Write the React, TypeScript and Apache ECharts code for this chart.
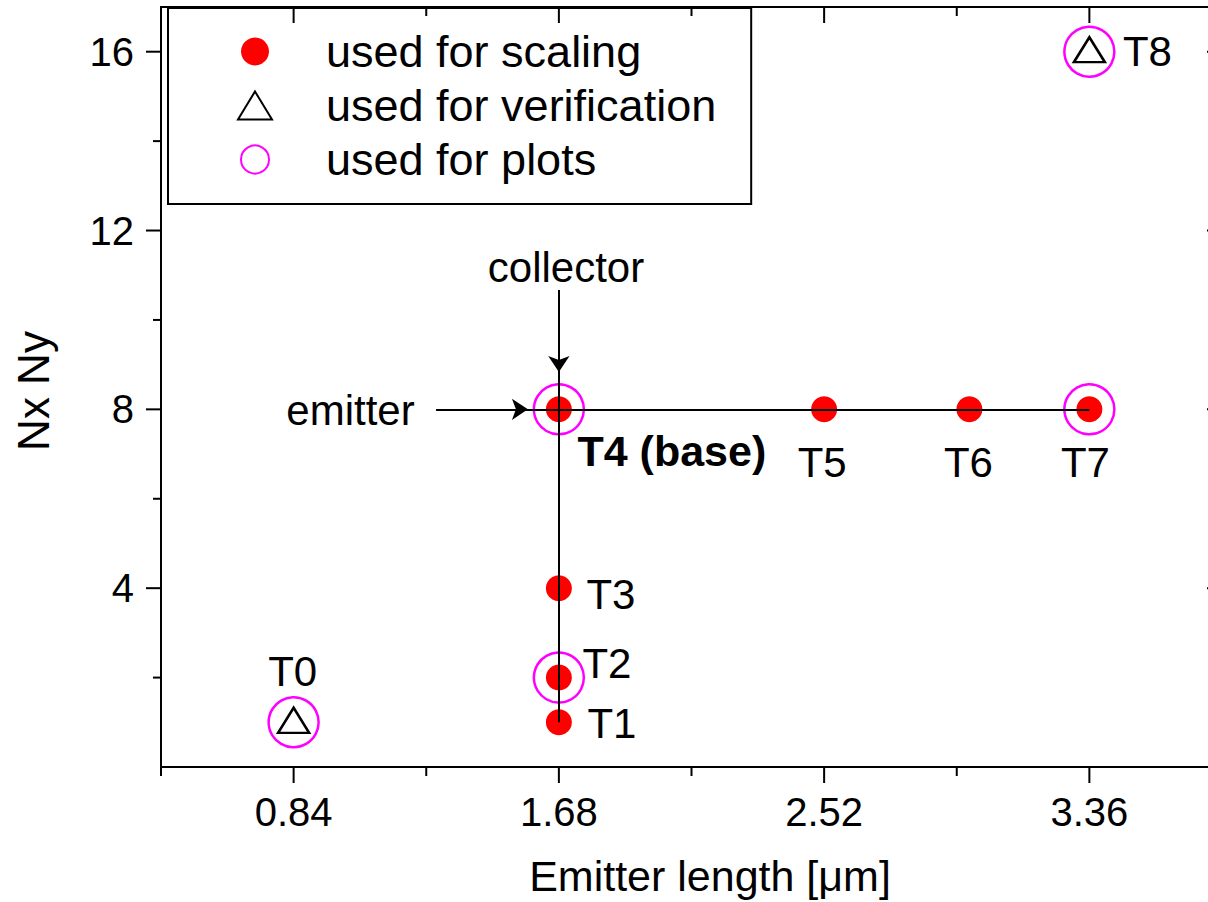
import React, { useEffect, useRef } from "react";
import * as echarts from "echarts";

const FONT = "'Liberation Sans', Arial, Helvetica, sans-serif";

// ---- data ----
const scalingNames = ["T1", "T2", "T3", "T4", "T5", "T6", "T7"];
const scalingX = [1.68, 1.68, 1.68, 1.68, 2.52, 2.98, 3.36];
const scalingY = [1, 2, 4, 8, 8, 8, 8];

const verificationNames = ["T0", "T8"];
const verificationX = [0.84, 3.36];
const verificationY = [1, 16];

const plotNames = ["T0", "T2", "T4", "T7", "T8"];
const plotX = [0.84, 1.68, 1.68, 3.36, 3.36];
const plotY = [1, 2, 8, 8, 16];

const legendNames = ["used for scaling", "used for verification", "used for plots"];

// connector segments (data coords)
const connectorFrom = [[1.68, 8.84], [1.58, 8]];
const connectorTo = [[1.68, 1], [3.36, 8]];
// arrows (collector, emitter)
const arrowFrom = [[1.68, 10.67], [1.291, 8]];
const arrowTo = [[1.68, 8.835], [1.582, 8]];

// annotations
const annotationText = ["T0", "T1", "T2", "T3", "T4 (base)", "T5", "T6", "T7", "T8", "collector", "emitter"];
const annotationX = [0.84, 1.68, 1.68, 1.68, 1.68, 2.52, 2.98, 3.36, 3.36, 1.7025, 1.02];
const annotationY = [1, 1, 2, 4, 8, 8, 8, 8, 16, 11.18, 8];

// axes
const X_MIN = 0.42;
const X_MAX = 3.78;
const X_STEP = 0.42;
const X_LABEL_STEP = 0.84;
const Y_MIN = 0;
const Y_MAX = 17;
const Y_STEP = 4;
const xTickMajor = [0.84, 1.68, 2.52, 3.36];
const xTickMinor = [0.42, 1.26, 2.1, 2.94, 3.78];
const yTickMajor = [4, 8, 12, 16];
const yTickMinor = [2, 6, 10, 14];

// ---- styles (label offsets) ----
const labelOffsets: Record<string, number[]> = {
  T0: [-1, -51],
  T1: [53, 1],
  T2: [48, -14],
  T3: [52, 6],
  "T4 (base)": [113, 42],
  T5: [-2, 53],
  T6: [-1, 53],
  T7: [-4, 53],
  T8: [58, 0],
  collector: [0, 0],
  emitter: [0, 1],
};

const pts = (xs: number[], ys: number[], names: string[]) =>
  xs.map((x, i) => ({ name: names[i], value: [x, ys[i]] }));

const segs = (from: number[][], to: number[][]) =>
  from.map((f, i) => ({ coords: [f, to[i]] }));

function buildOption(): any {
  const tickData = [
    ...xTickMajor.map((v) => [v, 0]),
    ...xTickMinor.map((v) => [v, 1]),
    ...yTickMajor.map((v) => [v, 2]),
    ...yTickMinor.map((v) => [v, 3]),
  ];
  const axisLine = { show: true, onZero: false, lineStyle: { color: "#000", width: 2 } };
  return {
    animation: false,
    backgroundColor: "#fff",
    grid: {
      left: 161,
      top: 7,
      width: 1061,
      height: 760,
      containLabel: false,
      outerBoundsMode: "none",
    },
    xAxis: [
      {
        type: "value",
        position: "bottom",
        min: X_MIN,
        max: X_MAX,
        interval: X_STEP,
        axisLine,
        axisTick: { show: false },
        splitLine: { show: false },
        axisLabel: {
          fontSize: 40,
          fontFamily: FONT,
          color: "#000",
          margin: 25,
          formatter: (v: number) => {
            const k = v / X_LABEL_STEP;
            return Math.abs(k - Math.round(k)) < 1e-6 ? v.toFixed(2) : "";
          },
        },
      },
      {
        type: "value",
        position: "top",
        min: X_MIN,
        max: X_MAX,
        interval: X_STEP,
        axisLine,
        axisTick: { show: false },
        splitLine: { show: false },
        axisLabel: { show: false },
      },
    ],
    yAxis: [
      {
        type: "value",
        position: "left",
        min: Y_MIN,
        max: Y_MAX,
        interval: Y_STEP,
        axisLine,
        axisTick: { show: false },
        splitLine: { show: false },
        axisLabel: {
          fontSize: 40,
          fontFamily: FONT,
          color: "#000",
          margin: 27,
          formatter: (v: number) => (v > 0 && v % Y_STEP === 0 && v <= 16 ? String(v) : ""),
        },
      },
      {
        type: "value",
        position: "right",
        min: Y_MIN,
        max: Y_MAX,
        interval: Y_STEP,
        axisLine,
        axisTick: { show: false },
        splitLine: { show: false },
        axisLabel: { show: false },
      },
    ],
    legend: {
      data: legendNames,
      orient: "vertical",
      left: 168,
      top: 8,
      itemWidth: 34,
      itemHeight: 28,
      itemGap: 9,
      padding: [21, 35, 22, 69],
      borderColor: "#000",
      borderWidth: 2,
      backgroundColor: "#fff",
      selectedMode: false,
      textStyle: {
        fontSize: 45,
        lineHeight: 45,
        fontFamily: FONT,
        color: "#000",
        padding: [0, 0, 0, 49],
      },
    },
    graphic: [
      {
        type: "text",
        x: 710,
        y: 876,
        style: {
          text: "Emitter length [μm]",
          fontSize: 43,
          fontFamily: FONT,
          fill: "#000",
          align: "center",
          verticalAlign: "middle",
        },
      },
      {
        type: "text",
        x: 33,
        y: 391,
        rotation: Math.PI / 2,
        style: {
          text: "Nx Ny",
          fontSize: 44,
          fontFamily: FONT,
          fill: "#000",
          align: "center",
          verticalAlign: "middle",
        },
      },
    ],
    series: [
      {
        name: "used for plots",
        type: "scatter",
        z: 2,
        symbol: "circle",
        symbolSize: 50,
        itemStyle: { color: "rgba(0,0,0,0)", borderColor: "#ff00ff", borderWidth: 2.5, opacity: 1 },
        data: pts(plotX, plotY, plotNames),
      },
      {
        name: "used for scaling",
        type: "scatter",
        z: 3,
        symbol: "circle",
        symbolSize: 26,
        itemStyle: { color: "#ff0000", borderWidth: 0, opacity: 1 },
        data: pts(scalingX, scalingY, scalingNames),
      },
      {
        name: "connectors",
        type: "lines",
        coordinateSystem: "cartesian2d",
        z: 4,
        silent: true,
        symbol: ["none", "none"],
        lineStyle: { color: "#000", width: 2, opacity: 1, curveness: 0 },
        data: segs(connectorFrom, connectorTo),
      },
      {
        name: "arrows",
        type: "lines",
        coordinateSystem: "cartesian2d",
        z: 4,
        silent: true,
        symbol: ["none", "arrow"],
        symbolSize: [8, 16],
        lineStyle: { color: "#000", width: 2, opacity: 1, curveness: 0 },
        data: segs(arrowFrom, arrowTo),
      },
      {
        name: "used for verification",
        type: "scatter",
        z: 5,
        symbol: "triangle",
        symbolSize: [31, 25],
        symbolOffset: [0, -2],
        itemStyle: { color: "rgba(0,0,0,0)", borderColor: "#000", borderWidth: 2.5, opacity: 1 },
        data: pts(verificationX, verificationY, verificationNames),
      },
      {
        name: "annotations",
        type: "scatter",
        z: 6,
        silent: true,
        symbolSize: 1,
        itemStyle: { color: "rgba(0,0,0,0)", opacity: 1 },
        data: annotationText.map((t, i) => ({
          name: t,
          value: [annotationX[i], annotationY[i]],
          label: {
            show: true,
            position: "inside",
            offset: labelOffsets[t] || [0, 0],
            formatter: t,
            fontSize: t === "T4 (base)" ? 43 : 42,
            fontWeight: t === "T4 (base)" ? "bold" : "normal",
            fontFamily: FONT,
            color: "#000",
            opacity: 1,
          },
        })),
      },
      {
        name: "ticks",
        type: "custom",
        z: 7,
        silent: true,
        clip: false,
        data: tickData,
        renderItem: (_params: any, api: any) => {
          const v = api.value(0);
          const kind = api.value(1);
          const style = { stroke: "#000", lineWidth: 2 };
          if (kind === 0 || kind === 1) {
            const len = kind === 0 ? 16 : 9;
            const b = api.coord([v, Y_MIN]);
            const t = api.coord([v, Y_MAX]);
            return {
              type: "group",
              children: [
                { type: "line", shape: { x1: b[0], y1: b[1], x2: b[0], y2: b[1] + len }, style },
                { type: "line", shape: { x1: t[0], y1: t[1], x2: t[0], y2: t[1] + len }, style },
              ],
            };
          }
          const len = kind === 2 ? 15 : 8;
          const l = api.coord([X_MIN, v]);
          const r = api.coord([X_MAX, v]);
          return {
            type: "group",
            children: [
              { type: "line", shape: { x1: l[0], y1: l[1], x2: l[0] - len, y2: l[1] }, style },
              { type: "line", shape: { x1: r[0], y1: r[1], x2: r[0] - len, y2: r[1] }, style },
            ],
          };
        },
      },
    ],
  };
}

export default function App() {
  const ref = useRef<HTMLDivElement>(null);
  useEffect(() => {
    if (!ref.current) return;
    const chart = echarts.init(ref.current, null, { renderer: "svg" });
    chart.setOption(buildOption());
    return () => chart.dispose();
  }, []);
  return (
    <div
      ref={ref}
      style={{ position: "absolute", left: 0, top: 0, width: 1208, height: 902, background: "#fff" }}
    />
  );
}
